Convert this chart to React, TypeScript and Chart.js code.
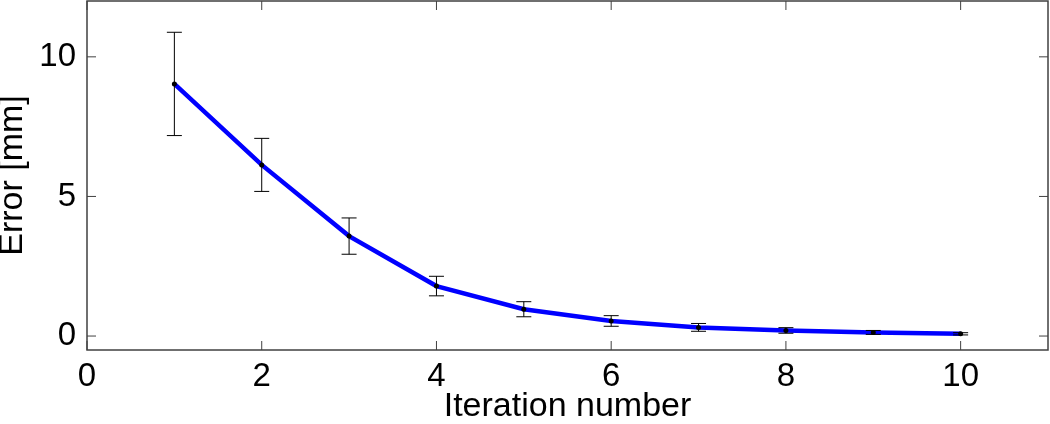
import React, { useEffect, useRef } from "react";
import { Chart, registerables } from "chart.js";

Chart.register(...registerables);

const iterations = [1, 2, 3, 4, 5, 6, 7, 8, 9, 10];
const meanError = [9.03, 6.13, 3.58, 1.79, 0.96, 0.54, 0.31, 0.2, 0.13, 0.08];
const errDelta = [1.85, 0.95, 0.65, 0.35, 0.27, 0.19, 0.14, 0.1, 0.07, 0.04];
const xTicks = [0, 2, 4, 6, 8, 10];
const yTicks = [0, 5, 10];

const FONT = "'Liberation Sans', Arial, Helvetica, sans-serif";
const AXIS_COLOR = "#404040";

const matlabPlugin = {
  id: "matlabBox",
  afterDatasetsDraw(chart: any) {
    const { ctx, chartArea, scales } = chart;
    const xs = scales.x;
    const ys = scales.y;
    ctx.save();
    ctx.strokeStyle = "#000";
    ctx.lineWidth = 1;
    const cap = 7.5;
    iterations.forEach((it, i) => {
      const px = xs.getPixelForValue(it);
      const top = ys.getPixelForValue(meanError[i] + errDelta[i]);
      const bot = ys.getPixelForValue(meanError[i] - errDelta[i]);
      ctx.beginPath();
      ctx.moveTo(px, top);
      ctx.lineTo(px, bot);
      ctx.moveTo(px - cap, top);
      ctx.lineTo(px + cap, top);
      ctx.moveTo(px - cap, bot);
      ctx.lineTo(px + cap, bot);
      ctx.stroke();
    });
    ctx.fillStyle = "#000";
    iterations.forEach((it, i) => {
      const px = xs.getPixelForValue(it);
      const py = ys.getPixelForValue(meanError[i]);
      ctx.beginPath();
      ctx.arc(px, py, 2.5, 0, Math.PI * 2);
      ctx.fill();
    });
    ctx.strokeStyle = AXIS_COLOR;
    ctx.lineWidth = 1.5;
    ctx.strokeRect(chartArea.left, chartArea.top, chartArea.right - chartArea.left, chartArea.bottom - chartArea.top);
    const tl = 9;
    ctx.lineWidth = 1;
    ctx.beginPath();
    xTicks.forEach((t) => {
      const px = xs.getPixelForValue(t);
      ctx.moveTo(px, chartArea.bottom);
      ctx.lineTo(px, chartArea.bottom - tl);
      ctx.moveTo(px, chartArea.top);
      ctx.lineTo(px, chartArea.top + tl);
    });
    yTicks.forEach((t) => {
      const py = ys.getPixelForValue(t);
      ctx.moveTo(chartArea.left, py);
      ctx.lineTo(chartArea.left + tl, py);
      ctx.moveTo(chartArea.right, py);
      ctx.lineTo(chartArea.right - tl, py);
    });
    ctx.stroke();
    ctx.restore();
  },
};

export default function App() {
  const ref = useRef<HTMLCanvasElement | null>(null);
  useEffect(() => {
    document.body.style.margin = "0";
    const chart = new Chart(ref.current as HTMLCanvasElement, {
      type: "line",
      data: {
        datasets: [
          {
            data: iterations.map((x, i) => ({ x, y: meanError[i] })),
            borderColor: "#0000ff",
            borderWidth: 4.5,
            pointRadius: 0,
            tension: 0,
            fill: false,
          },
        ],
      },
      options: {
        animation: false,
        responsive: false,
        maintainAspectRatio: false,
        layout: { padding: { top: 1, right: 2, left: 0, bottom: 0 } },
        plugins: { legend: { display: false }, tooltip: { enabled: false } },
        scales: {
          x: {
            type: "linear",
            min: 0,
            max: 11,
            border: { display: false },
            grid: { display: false, drawTicks: false },
            afterBuildTicks: (s: any) => {
              s.ticks = xTicks.map((v) => ({ value: v }));
            },
            afterFit: (s: any) => {
              s.height = 74;
              s.paddingLeft = 0;
              s.paddingRight = 0;
              s.paddingTop = 0;
              s.paddingBottom = 0;
            },
            ticks: {
              color: "#000",
              padding: 7,
              font: { family: FONT, size: 33 },
              maxRotation: 0,
            },
            title: {
              display: true,
              text: "Iteration number",
              color: "#000",
              font: { family: FONT, size: 34, lineHeight: 1 },
              padding: 0,
            },
          },
          y: {
            type: "linear",
            min: -0.5,
            max: 12,
            border: { display: false },
            grid: { display: false, drawTicks: false },
            afterBuildTicks: (s: any) => {
              s.ticks = yTicks.map((v) => ({ value: v }));
            },
            afterFit: (s: any) => {
              s.width = 87;
              s.paddingLeft = 0;
              s.paddingRight = 0;
              s.paddingTop = 0;
              s.paddingBottom = 0;
            },
            ticks: {
              color: "#000",
              padding: 11,
              font: { family: FONT, size: 33 },
            },
            title: {
              display: true,
              text: "Error [mm]",
              color: "#000",
              font: { family: FONT, size: 34, lineHeight: 0.75 },
              padding: 0,
            },
          },
        },
      },
      plugins: [matlabPlugin],
    } as any);
    return () => chart.destroy();
  }, []);
  return (
    <div style={{ position: "absolute", left: 0, top: 0, width: 1050, height: 424 }}>
      <canvas ref={ref} width={1050} height={424} style={{ display: "block" }} />
    </div>
  );
}
